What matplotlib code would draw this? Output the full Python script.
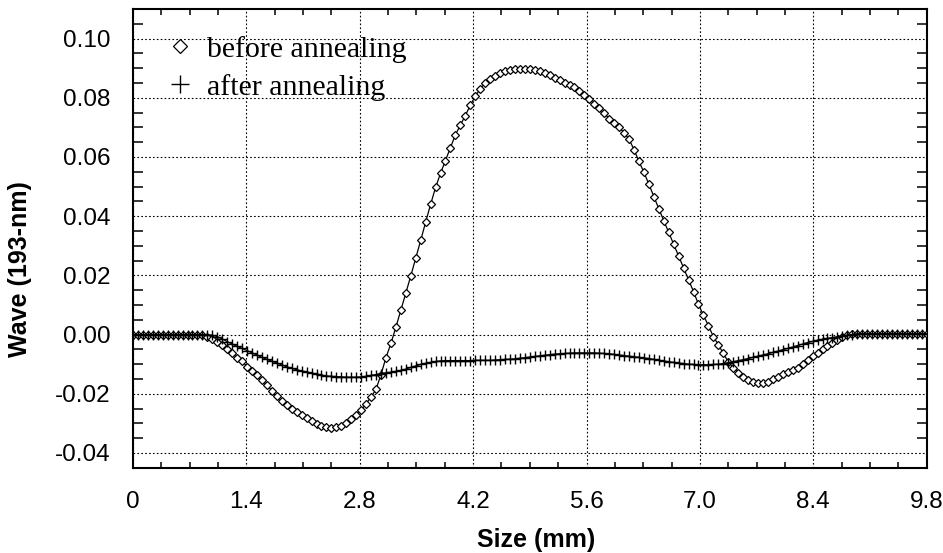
import numpy as np
import matplotlib
matplotlib.use("Agg")
import matplotlib.pyplot as plt
from matplotlib.ticker import MultipleLocator, FormatStrFormatter

# ---- data ----
size_mm = np.linspace(0, 9.8, 161)

before_annealing = [
    0.0, 0.0, 0.0, 0.0, 0.0, 0.0, 0.0, 0.0, 0.0, 0.0,
    0.0, 0.0, 0.0, 0.0, 0.0, -0.0007, -0.0015, -0.0024, -0.0036, -0.0050,
    -0.0064, -0.0078, -0.0091, -0.0108, -0.0123, -0.0138, -0.0154, -0.0171, -0.0190, -0.0209,
    -0.0224, -0.0239, -0.0253, -0.0263, -0.0273, -0.0283, -0.0293, -0.0302, -0.0308, -0.0312,
    -0.0315, -0.0314, -0.0309, -0.0300, -0.0287, -0.0272, -0.0255, -0.0234, -0.0211, -0.0185,
    -0.0135, -0.0078, -0.0030, 0.0025, 0.0082, 0.0140, 0.0198, 0.0258, 0.0318, 0.0380,
    0.0440, 0.0497, 0.0545, 0.0588, 0.0630, 0.0675, 0.0708, 0.0740, 0.0775, 0.0805,
    0.0830, 0.0851, 0.0863, 0.0874, 0.0883, 0.0891, 0.0895, 0.0897, 0.0898, 0.0898,
    0.0897, 0.0894, 0.0890, 0.0884, 0.0877, 0.0868, 0.0859, 0.0851, 0.0843, 0.0835,
    0.0824, 0.0810, 0.0795, 0.0779, 0.0764, 0.0747, 0.0730, 0.0716, 0.0700, 0.0682,
    0.0660, 0.0625, 0.0585, 0.0548, 0.0508, 0.0466, 0.0425, 0.0385, 0.0345, 0.0305,
    0.0265, 0.0225, 0.0185, 0.0145, 0.0102, 0.0065, 0.0030, -0.0007, -0.0034, -0.0064,
    -0.0092, -0.0112, -0.0129, -0.0142, -0.0153, -0.0160, -0.0164, -0.0164, -0.0161, -0.0151,
    -0.0142, -0.0133, -0.0125, -0.0121, -0.0112, -0.0100, -0.0087, -0.0074, -0.0062, -0.0050,
    -0.0039, -0.0028, -0.0018, -0.0009, -0.0003, 0.0001, 0.0003, 0.0003, 0.0003, 0.0003,
    0.0003, 0.0003, 0.0003, 0.0003, 0.0003, 0.0003, 0.0003, 0.0003, 0.0003, 0.0003,
    0.0003,
]

after_annealing = [
    0.0, 0.0, 0.0, 0.0, 0.0, 0.0, 0.0, 0.0, 0.0, 0.0,
    0.0, 0.0, 0.0, 0.0, 0.0, -0.0001, -0.0002, -0.0007, -0.0015, -0.0024,
    -0.0032, -0.0040, -0.0047, -0.0054, -0.0062, -0.0069, -0.0077, -0.0084, -0.0090, -0.0096,
    -0.0103, -0.0109, -0.0114, -0.0119, -0.0123, -0.0126, -0.0130, -0.0133, -0.0137, -0.0140,
    -0.0141, -0.0142, -0.0143, -0.0144, -0.0144, -0.0144, -0.0143, -0.0141, -0.0138, -0.0135,
    -0.0132, -0.0129, -0.0127, -0.0124, -0.0121, -0.0117, -0.0111, -0.0106, -0.0101, -0.0097,
    -0.0094, -0.0091, -0.0089, -0.0088, -0.0088, -0.0088, -0.0088, -0.0088, -0.0088, -0.0087,
    -0.0087, -0.0087, -0.0087, -0.0086, -0.0085, -0.0084, -0.0083, -0.0082, -0.0080, -0.0078,
    -0.0076, -0.0074, -0.0072, -0.0070, -0.0068, -0.0066, -0.0065, -0.0064, -0.0063, -0.0062,
    -0.0062, -0.0062, -0.0062, -0.0062, -0.0063, -0.0064, -0.0065, -0.0067, -0.0069, -0.0071,
    -0.0073, -0.0075, -0.0077, -0.0079, -0.0081, -0.0084, -0.0087, -0.0089, -0.0092, -0.0094,
    -0.0096, -0.0098, -0.0100, -0.0101, -0.0102, -0.0102, -0.0102, -0.0101, -0.0100, -0.0098,
    -0.0095, -0.0092, -0.0088, -0.0085, -0.0081, -0.0077, -0.0073, -0.0069, -0.0065, -0.0060,
    -0.0056, -0.0051, -0.0047, -0.0042, -0.0037, -0.0032, -0.0027, -0.0023, -0.0019, -0.0016,
    -0.0013, -0.0010, -0.0007, -0.0004, -0.0002, 0.0000, 0.0003, 0.0003, 0.0003, 0.0003,
    0.0003, 0.0003, 0.0003, 0.0003, 0.0003, 0.0003, 0.0003, 0.0003, 0.0003, 0.0003,
    0.0003,
]

x_ticks = [0, 1.4, 2.8, 4.2, 5.6, 7.0, 8.4, 9.8]
x_tick_labels = ["0", "1.4", "2.8", "4.2", "5.6", "7.0", "8.4", "9.8"]
y_ticks = [-0.04, -0.02, 0.00, 0.02, 0.04, 0.06, 0.08, 0.10]

# ---- figure ----
fig = plt.figure(figsize=(9.43, 5.53), dpi=100)
ax = fig.add_axes([0.141, 0.1542, 0.8417, 0.8295])

ax.plot(size_mm, before_annealing, color="black", lw=0.9, marker="D",
        ms=3.8, mfc="white", mec="black", mew=0.9, label="before annealing", zorder=3)
ax.plot(size_mm, after_annealing, color="black", lw=0.9, marker="+",
        ms=6.5, mec="black", mew=1.0, label="after annealing", zorder=3)

ax.set_xlim(0, 9.8)
ax.set_ylim(-0.045, 0.11)
ax.set_xticks(x_ticks)
ax.set_xticklabels(x_tick_labels)
ax.set_yticks(y_ticks)
ax.yaxis.set_major_formatter(FormatStrFormatter("%.2f"))
ax.xaxis.set_minor_locator(MultipleLocator(0.35))
ax.yaxis.set_minor_locator(MultipleLocator(0.005))

for lab in ax.get_xticklabels() + ax.get_yticklabels():
    lab.set_fontfamily("Liberation Sans")
    lab.set_fontsize(17.5)

ax.tick_params(which="major", length=0)
ax.tick_params(axis="x", which="major", pad=17)
ax.tick_params(axis="y", which="major", pad=16)
ax.tick_params(axis="x", which="minor", direction="in", length=4.5, width=1.1,
               top=True, bottom=True)
ax.tick_params(axis="y", which="minor", direction="in", length=7.2, width=1.1,
               left=True, right=True)

for sp in ax.spines.values():
    sp.set_linewidth(1.5)

ax.grid(True, which="major", linestyle=(0, (1.5, 2.0)), linewidth=0.8, color="black")

ax.set_xlabel("Size (mm)", fontfamily="Liberation Sans", fontsize=18, fontweight="bold")
ax.set_ylabel("Wave (193-nm)", fontfamily="Liberation Sans", fontsize=18, fontweight="bold")
ax.xaxis.set_label_coords(0.508, -0.131)
ax.yaxis.set_label_coords(-0.127, 0.433)

leg = ax.legend(loc="upper left", bbox_to_anchor=(0.04, 0.942), frameon=False,
                prop={"family": "Liberation Serif", "size": 21.5},
                markerscale=2.0, handlelength=1.0, handletextpad=0.4,
                labelspacing=0.38, borderpad=0.0, borderaxespad=0.0)
for line in leg.get_lines():
    line.set_linestyle("none")

fig.savefig("out.png", dpi=100)
